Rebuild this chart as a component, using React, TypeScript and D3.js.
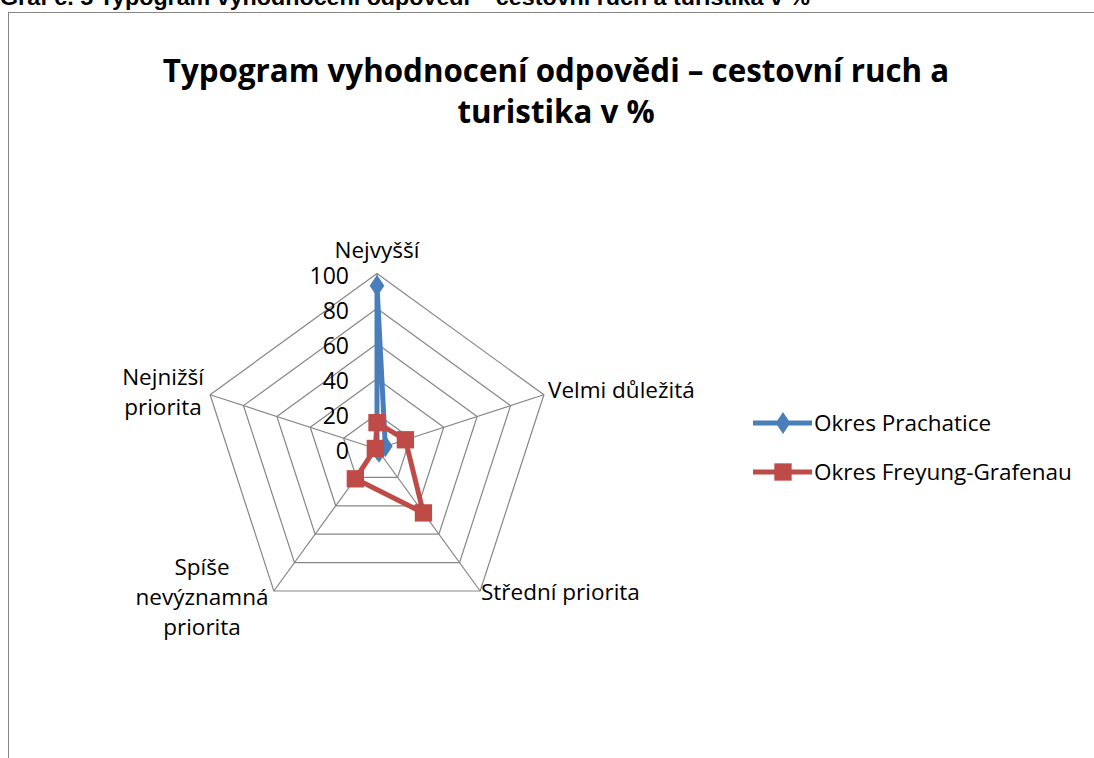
import { useEffect, useRef } from 'react';
import * as d3 from 'd3';

const categories = ['Nejvyšší', 'Velmi důležitá', 'Střední priorita', 'Spíše nevýznamná priorita', 'Nejnižší priorita'];
const prachatice = [93, 5, 2, 0, 0];
const freyung = [15, 17, 45, 21, 1];
const ticks = [0, 20, 40, 60, 80, 100];
const seriesNames = ['Okres Prachatice', 'Okres Freyung-Grafenau'];
const seriesColors = ['#4a7ebb', '#be4b48'];

const FONT = '"Open Sans", Lato, sans-serif';
const LABEL_SIZE = 22.5;

const App = () => {
  const svgRef = useRef<SVGSVGElement>(null);

  useEffect(() => {
    const svg = d3.select(svgRef.current);
    svg.selectAll('*').remove();

    // caption above the frame (cut off at the top, as in the source page)
    svg.append('text')
      .attr('x', 0).attr('y', 5)
      .attr('font-family', '"Liberation Sans Narrow", "Liberation Sans", Arial, sans-serif')
      .attr('font-weight', 'bold').attr('font-size', 22)
      .attr('textLength', 810).attr('lengthAdjust', 'spacingAndGlyphs')
      .text('Graf č. 5 Typogram vyhodnocení odpovědí – cestovní ruch a turistika v %');

    // chart frame
    svg.append('rect')
      .attr('x', 8.5).attr('y', 12.5).attr('width', 1100).attr('height', 800)
      .attr('fill', 'white').attr('stroke', '#868686').attr('stroke-width', 1);

    // title
    const title = svg.append('text')
      .attr('text-anchor', 'middle')
      .attr('font-family', FONT).attr('font-weight', 'bold').attr('font-size', 31.3)
      .attr('fill', '#000');
    title.append('tspan').attr('x', 556).attr('y', 82).text('Typogram vyhodnocení odpovědi – cestovní ruch a');
    title.append('tspan').attr('x', 556).attr('y', 123).text('turistika v %');

    const cx = 377, cy = 449, R = 175.5;
    const r = d3.scaleLinear().domain([0, 100]).range([0, R]);
    const angle = (i: number) => (i * 2 * Math.PI) / categories.length;
    const pt = (i: number, v: number): [number, number] => [
      cx + r(v) * Math.sin(angle(i)),
      cy - r(v) * Math.cos(angle(i)),
    ];

    const g = svg.append('g');

    // grid pentagons
    ticks.slice(1).forEach(t => {
      g.append('path')
        .attr('d', d3.line()(categories.map((_, i) => pt(i, t))) + 'Z')
        .attr('fill', 'none').attr('stroke', '#868686').attr('stroke-width', 1.2);
    });
    // spokes
    categories.forEach((_, i) => {
      const [x, y] = pt(i, 100);
      g.append('line')
        .attr('x1', cx).attr('y1', cy).attr('x2', x).attr('y2', y)
        .attr('stroke', '#868686').attr('stroke-width', 1.2);
    });

    // tick labels
    ticks.forEach(t => {
      g.append('text')
        .attr('x', cx - 28).attr('y', cy - r(t) + 10)
        .attr('text-anchor', 'end')
        .attr('font-family', FONT).attr('font-size', 23)
        .text(t);
    });

    // category labels
    const labelSpec = [
      { lines: ['Nejvyšší'], x: 377, y: 258, anchor: 'middle' },
      { lines: ['Velmi důležitá'], x: 548, y: 398, anchor: 'start' },
      { lines: ['Střední priorita'], x: 481, y: 600, anchor: 'start' },
      { lines: ['Spíše', 'nevýznamná', 'priorita'], x: 202, y: 575, anchor: 'middle' },
      { lines: ['Nejnižší', 'priorita'], x: 163, y: 385, anchor: 'middle' },
    ];
    labelSpec.forEach(l => {
      const t = g.append('text')
        .attr('text-anchor', l.anchor)
        .attr('font-family', FONT).attr('font-size', LABEL_SIZE);
      l.lines.forEach((s, k) => {
        t.append('tspan').attr('x', l.x).attr('y', l.y + k * 30).text(s);
      });
    });

    const diamond = d3.symbol().type(d3.symbolDiamond).size(140);
    const square = d3.symbol().type(d3.symbolSquare).size(300);

    [prachatice, freyung].forEach((vals, s) => {
      const pts = vals.map((v, i) => pt(i, v));
      g.append('path')
        .attr('d', d3.line()(pts) + 'Z')
        .attr('fill', 'none').attr('stroke', seriesColors[s])
        .attr('stroke-width', 5).attr('stroke-linejoin', 'round');
      pts.forEach(([x, y]) => {
        g.append('path')
          .attr('d', (s === 0 ? diamond : square)() as string)
          .attr('transform', `translate(${x},${y}) scale(${s === 0 ? '1.15,1' : '1'})`)
          .attr('fill', seriesColors[s]);
      });
    });

    // legend
    seriesNames.forEach((name, s) => {
      const y = 423 + s * 49;
      svg.append('line')
        .attr('x1', 753).attr('x2', 812).attr('y1', y).attr('y2', y)
        .attr('stroke', seriesColors[s]).attr('stroke-width', 5);
      svg.append('path')
        .attr('d', (s === 0 ? diamond : square)() as string)
        .attr('transform', `translate(783,${y}) scale(${s === 0 ? '1.15,1' : '1'})`)
        .attr('fill', seriesColors[s]);
      svg.append('text')
        .attr('x', 814).attr('y', y + 8)
        .attr('font-family', FONT).attr('font-size', LABEL_SIZE)
        .text(name);
    });
  }, []);

  return (
    <svg ref={svgRef} width={1094} height={758}
      style={{ position: 'absolute', left: 0, top: 0, background: 'white' }} />
  );
};

export default App;
